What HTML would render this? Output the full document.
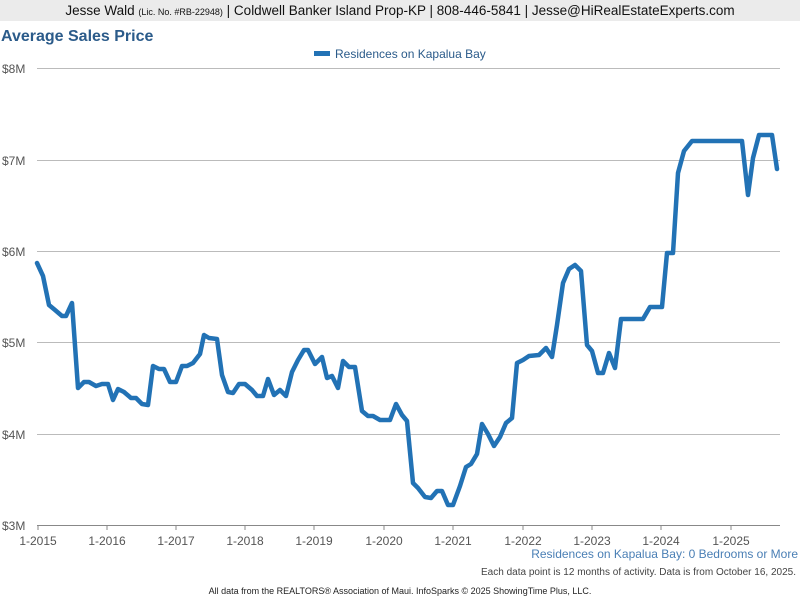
<!DOCTYPE html>
<html><head><meta charset="utf-8"><style>
body{margin:0;width:800px;height:600px;background:#fff;font-family:"Liberation Sans",sans-serif;overflow:hidden;position:relative}
.hdr{position:absolute;left:0;top:0;width:800px;height:21px;background:#ebebeb;text-align:center;font-size:13.5px;line-height:22px;color:#111}
.hdr small{font-size:9px}
</style></head><body>
<div class="hdr">Jesse Wald <small>(Lic. No. #RB-22948)</small> | Coldwell Banker Island Prop-KP | 808-446-5841 | Jesse@HiRealEstateExperts.com</div>
<svg width="800" height="600" style="position:absolute;left:0;top:0" font-family="Liberation Sans, sans-serif">
<text x="1" y="41" font-size="16" font-weight="bold" fill="#2b5b8a">Average Sales Price</text>
<rect x="314" y="51" width="16" height="5" fill="#2272b5"/>
<text x="335" y="58" font-size="12" fill="#2b5b8a">Residences on Kapalua Bay</text>
<g stroke="#bbb" stroke-width="1">
<line x1="37" y1="68.5" x2="780" y2="68.5"/><line x1="37" y1="160.5" x2="780" y2="160.5"/><line x1="37" y1="251.5" x2="780" y2="251.5"/><line x1="37" y1="342.5" x2="780" y2="342.5"/><line x1="37" y1="434.5" x2="780" y2="434.5"/>
</g>
<line x1="37" y1="525.5" x2="780" y2="525.5" stroke="#888"/>
<g stroke="#888"><line x1="38" y1="525" x2="38" y2="530"/><line x1="107" y1="525" x2="107" y2="530"/><line x1="176" y1="525" x2="176" y2="530"/><line x1="245" y1="525" x2="245" y2="530"/><line x1="314" y1="525" x2="314" y2="530"/><line x1="384" y1="525" x2="384" y2="530"/><line x1="453" y1="525" x2="453" y2="530"/><line x1="523" y1="525" x2="523" y2="530"/><line x1="592" y1="525" x2="592" y2="530"/><line x1="661" y1="525" x2="661" y2="530"/><line x1="731" y1="525" x2="731" y2="530"/></g>
<g font-size="12" fill="#555">
<text x="2" y="73">$8M</text><text x="2" y="165">$7M</text><text x="2" y="256">$6M</text><text x="2" y="347">$5M</text><text x="2" y="439">$4M</text><text x="2" y="530">$3M</text>
</g>
<g font-size="12" fill="#555" text-anchor="middle">
<text x="38" y="545">1-2015</text><text x="107" y="545">1-2016</text><text x="176" y="545">1-2017</text><text x="245" y="545">1-2018</text><text x="314" y="545">1-2019</text><text x="384" y="545">1-2020</text><text x="453" y="545">1-2021</text><text x="523" y="545">1-2022</text><text x="592" y="545">1-2023</text><text x="661" y="545">1-2024</text><text x="731" y="545">1-2025</text>
</g>
<polyline fill="none" stroke="#2272b5" stroke-width="4.5" stroke-linejoin="round" stroke-linecap="round" points="37,263 43,276 49,305 55,310 62,316 66,316 72,303 78,388 84,382 89,382 96,386 102,384 108,384 113,400 118,389 124,392 131,398 136,398 142,404 148,405 153,366 159,369 164,369 170,382 176,382 182,366 187,366 193,363 200,354 204,335 209,338 217,339 222,375 228,392 233,393 239,384 245,384 252,390 257,396 263,396 268,379 274,395 280,390 286,396 292,372 298,360 304,350 308,350 315,364 322,357 327,378 332,376 338,388 343,361 349,367 355,367 362,411 368,416 373,416 380,420 385,420 390,420 396,404 402,415 407,421 413,483 418,488 425,497 431,498 437,491 442,491 448,505 453,505 460,486 466,467 471,464 477,454 482,424 488,434 494,446 500,437 506,423 512,418 517,363 523,360 529,356 539,355 546,348 552,357 557,325 563,283 569,269 575,265 581,271 587,345 592,351 598,373 603,373 609,353 615,368 621,319 643,319 650,307 662,307 667,253 673,253 678,173 684,151 692,141 742,141 748,195 753,158 759,135 772,135 777,169"/>
<text x="798" y="558" font-size="12" fill="#4a7fb5" text-anchor="end">Residences on Kapalua Bay: 0 Bedrooms or More</text>
<text x="796" y="575" font-size="10" fill="#444" text-anchor="end">Each data point is 12 months of activity. Data is from October 16, 2025.</text>
<text x="400" y="594" font-size="9" fill="#222" text-anchor="middle">All data from the REALTORS® Association of Maui. InfoSparks © 2025 ShowingTime Plus, LLC.</text>
</svg>
</body></html>
